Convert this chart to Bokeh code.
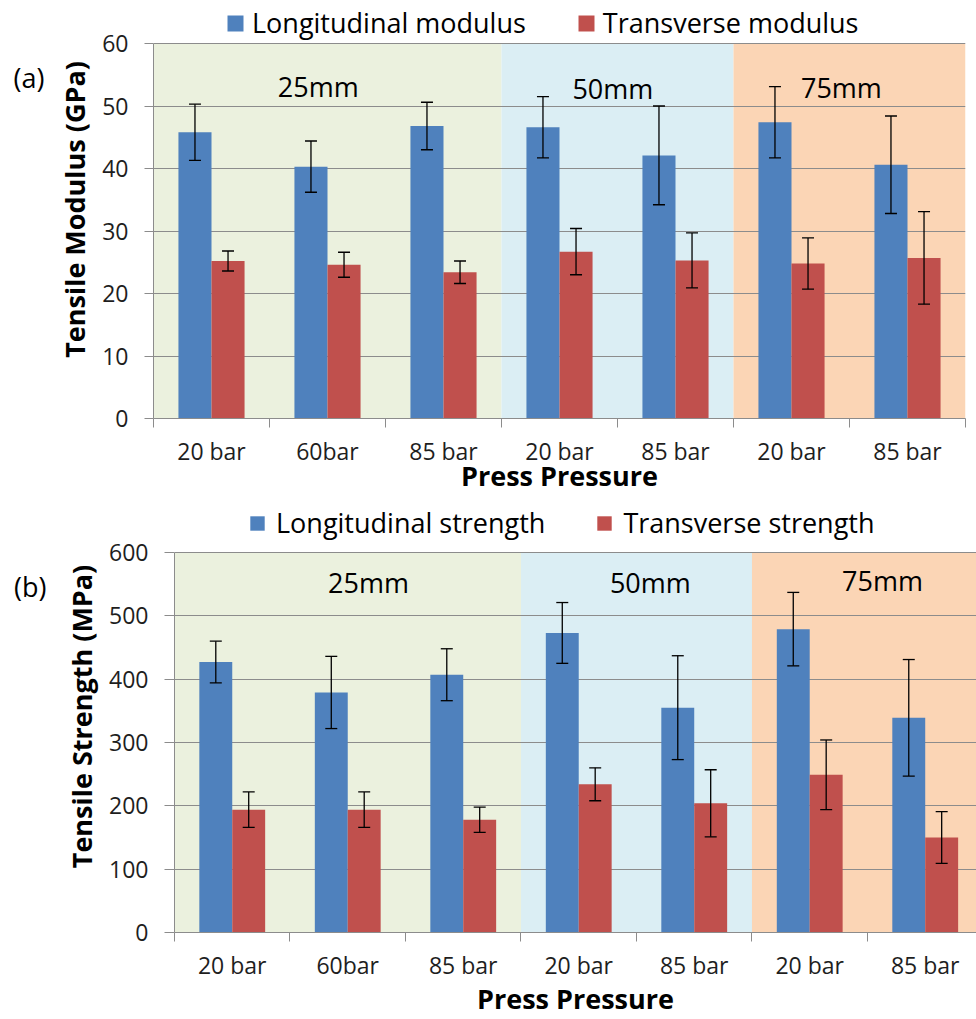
import numpy as np
from bokeh.plotting import figure
from bokeh.models import (Range1d, FixedTicker, SingleIntervalTicker, Whisker, TeeHead,
                          ColumnDataSource, Legend, LegendItem, CustomJSTickFormatter, LinearAxis)
from bokeh.core.properties import value
from bokeh.embed import file_html
from bokeh.resources import INLINE

# ---------------- data ----------------
categories = ["20 bar", "60bar", "85 bar", "20 bar", "85 bar", "20 bar", "85 bar"]
regions = ["25mm", "50mm", "75mm"]
region_bounds = [0, 3, 5, 7]

long_mod = [45.8, 40.3, 46.8, 46.6, 42.1, 47.4, 40.6]
long_mod_err = [4.5, 4.1, 3.8, 4.9, 7.9, 5.7, 7.8]
trans_mod = [25.2, 24.6, 23.4, 26.7, 25.3, 24.8, 25.7]
trans_mod_err = [1.6, 2.0, 1.8, 3.7, 4.4, 4.1, 7.4]

long_str = [427, 379, 407, 473, 355, 479, 339]
long_str_err = [33, 57, 41, 48, 82, 58, 92]
trans_str = [194, 194, 178, 234, 204, 249, 150]
trans_str_err = [28, 28, 20, 26, 53, 55, 41]

# ---------------- style ----------------
FONT = "Open Sans"
BLUE = "#4F81BD"
RED = "#C0504D"
BAND_COLORS = ["#EBF1DE", "#DBEEF4", "#FBD5B5"]
GRAY = "#8C8C8C"
TXT = "#1E1E1E"
BAR_W = 0.285


def make_panel(long_v, long_e, trans_v, trans_e, names, ylab, ymax, yview, ystep,
               width, height, bl, br, bb, xend, region_pos, letter, letter_y, letter_standoff,
               leg_loc, leg_standoff, leg_glyph, ytick_out, xlab_standoff):
    # the frame reaches the top of the canvas so that the legend sits inside it;
    # the value axis itself stops at ymax
    p = figure(width=width, height=height, x_range=Range1d(0, xend), y_range=Range1d(0, yview),
               output_backend="svg", toolbar_location=None,
               min_border_left=bl, min_border_right=br, min_border_top=0, min_border_bottom=bb)
    p.outline_line_color = None
    p.background_fill_color = "white"

    # region bands
    p.quad(left=region_bounds[:-1], right=region_bounds[1:], bottom=0, top=ymax,
           fill_color=BAND_COLORS, line_color=None, level="image")

    centers = np.arange(len(categories)) + 0.5
    xb = centers - BAR_W / 2
    xr = centers + BAR_W / 2
    src = ColumnDataSource(dict(
        xb=xb, xr=xr,
        lv=long_v, tv=trans_v,
        lu=np.array(long_v) + np.array(long_e), ll=np.array(long_v) - np.array(long_e),
        tu=np.array(trans_v) + np.array(trans_e), tl=np.array(trans_v) - np.array(trans_e),
    ))
    rb = p.vbar(x="xb", top="lv", width=BAR_W, source=src, fill_color=BLUE, line_color=None)
    rr = p.vbar(x="xr", top="tv", width=BAR_W, source=src, fill_color=RED, line_color=None)

    for base, up, lo in (("xb", "lu", "ll"), ("xr", "tu", "tl")):
        w = Whisker(base=base, upper=up, lower=lo, source=src, dimension="height",
                    line_color="black", line_width=1.3, level="annotation",
                    upper_head=TeeHead(size=12, line_color="black", line_width=1.3),
                    lower_head=TeeHead(size=12, line_color="black", line_width=1.3))
        p.add_layout(w)

    # region labels
    p.text(x=[r[0] for r in region_pos], y=[r[1] for r in region_pos], text=regions,
           text_font=value(FONT), text_font_size="27px", text_color="black",
           text_align="center", text_baseline="alphabetic")

    # x axis: labels at category centres, tick marks at category boundaries
    xa = p.xaxis[0]
    xa.ticker = FixedTicker(ticks=[float(c) for c in centers],
                            minor_ticks=[float(i) for i in range(len(categories) + 1)])
    xa.formatter = CustomJSTickFormatter(args=dict(labels=categories),
                                         code="return labels[Math.floor(tick)];")
    xa.major_tick_out = 0
    xa.major_tick_in = 0
    xa.minor_tick_out = 9
    xa.minor_tick_in = 0
    xa.minor_tick_line_color = GRAY
    xa.axis_line_color = GRAY
    xa.major_label_text_font = FONT
    xa.major_label_text_font_size = "23px"
    xa.major_label_text_color = TXT
    xa.major_label_standoff = 7
    xa.axis_label = "Press Pressure"
    xa.axis_label_text_font = FONT
    xa.axis_label_text_font_size = "27px"
    xa.axis_label_text_font_style = "bold"
    xa.axis_label_text_color = "black"
    xa.axis_label_standoff = xlab_standoff

    ya = p.yaxis[0]
    ya.ticker = SingleIntervalTicker(interval=ystep, num_minor_ticks=0)
    ya.bounds = (0, ymax)
    ya.major_tick_out = ytick_out
    ya.major_tick_in = 0
    ya.major_tick_line_color = GRAY
    ya.axis_line_color = GRAY
    ya.major_label_text_font = FONT
    ya.major_label_text_font_size = "23px"
    ya.major_label_text_color = TXT
    ya.major_label_standoff = 16
    ya.axis_label = ylab
    ya.axis_label_text_font = FONT
    ya.axis_label_text_font_size = "27px"
    ya.axis_label_text_font_style = "bold"
    ya.axis_label_text_color = "black"
    ya.axis_label_standoff = 6

    p.xgrid.visible = False
    p.ygrid.ticker = ya.ticker
    p.ygrid.grid_line_color = GRAY
    p.ygrid.grid_line_width = 1

    # panel letter "(a)" / "(b)" as the single label of an outer, line-less left axis
    tag_axis = LinearAxis(ticker=FixedTicker(ticks=[letter_y], minor_ticks=[]),
                          formatter=CustomJSTickFormatter(args=dict(letter=letter),
                                                          code="return letter;"),
                          axis_line_color=None, major_tick_line_color=None,
                          minor_tick_line_color=None, major_tick_out=0, major_tick_in=0,
                          major_label_standoff=letter_standoff,
                          major_label_text_font=FONT, major_label_text_font_size="27px",
                          major_label_text_color="black")
    p.add_layout(tag_axis, "left")

    legend = Legend(items=[LegendItem(label=names[0], renderers=[rb]),
                           LegendItem(label=names[1], renderers=[rr])],
                    orientation="horizontal", location=leg_loc,
                    label_text_font=FONT, label_text_font_size="27px", label_text_color="black",
                    glyph_width=leg_glyph, glyph_height=leg_glyph, label_standoff=leg_standoff,
                    spacing=50, padding=0, margin=0,
                    border_line_color=None, background_fill_alpha=0)
    p.add_layout(legend)
    return p


p1 = make_panel(long_mod, long_mod_err, trans_mod, trans_mod_err,
                ["Longitudinal modulus", "Transverse modulus"], "Tensile Modulus (GPa)",
                60, 66.88, 10, 976, 500, 153, 11, 82, 7,
                [(1.42, 53.1), (3.96, 52.8), (5.93, 53.0)], "(a)", 54.64, 9,
                (72, 377), 7, 20, 9, -13)

p2 = make_panel(long_str, long_str_err, trans_str, trans_str_err,
                ["Longitudinal strength", "Transverse strength"], "Tensile Strength (MPa)",
                600, 682.1, 100, 976, 519, 174, 0, 83, 6.944,
                [(1.68, 552), (4.12, 553), (6.13, 556)], "(b)", 546.3, 14,
                (74, 391), 10, 18, 10, -4)

open("out.html", "w").write(file_html([p1, p2], INLINE))
